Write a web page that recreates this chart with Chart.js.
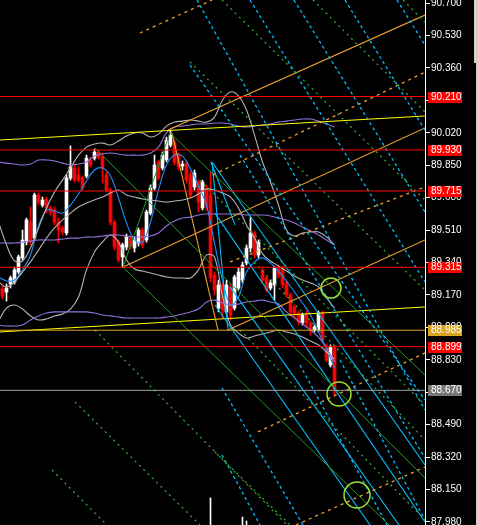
<!DOCTYPE html>
<html>
<head>
<meta charset="utf-8">
<title>Price chart</title>
<script src="https://cdn.jsdelivr.net/npm/chart.js@4.4.1/dist/chart.umd.min.js"></script>
<style>
  html, body { margin: 0; padding: 0; background: #000; overflow: hidden; }
  canvas { display: block; }
</style>
</head>
<body>
<canvas id="chart" width="478" height="525"></canvas>
<script>
// candles, bar 0 is the leftmost (half cut off)
const open = [
  89.206, 89.201, 89.185, 89.227, 89.238, 89.290, 89.364, 89.447, 89.552, 89.468,
  89.694, 89.641, 89.673, 89.626, 89.615, 89.552, 89.521, 89.495, 89.783, 89.835,
  89.799, 89.783, 89.793, 89.877, 89.887, 89.919, 89.893, 89.799, 89.720, 89.552,
  89.447, 89.369, 89.421, 89.468, 89.416, 89.442, 89.510, 89.458, 89.599, 89.730,
  89.867, 89.835, 89.877, 89.956, 89.971, 89.903, 89.846, 89.861, 89.799, 89.736,
  89.762, 89.626, 89.730, 89.694, 89.274, 89.101, 89.222, 89.081, 89.212, 89.101,
  89.206, 89.248, 89.337, 89.416, 89.495, 89.379, 89.301, 89.259, 89.206, 89.222,
  89.316, 89.311, 89.233, 89.170, 89.107, 89.075, 89.023, 89.075, 89.023, 88.986,
  88.986, 89.075, 88.892, 88.803, 88.897
];
const high = [
  89.222, 89.222, 89.227, 89.269, 89.316, 89.379, 89.510, 89.573, 89.631, 89.704,
  89.704, 89.683, 89.683, 89.636, 89.631, 89.573, 89.531, 89.799, 89.951, 89.856,
  89.841, 89.793, 89.903, 89.893, 89.935, 89.930, 89.914, 89.814, 89.730, 89.563,
  89.458, 89.442, 89.489, 89.479, 89.474, 89.521, 89.521, 89.615, 89.746, 89.903,
  89.877, 89.919, 89.997, 90.034, 89.982, 89.914, 89.872, 89.872, 89.814, 89.825,
  89.772, 89.772, 89.746, 89.814, 89.290, 89.248, 89.233, 89.248, 89.227, 89.274,
  89.311, 89.343, 89.432, 89.578, 89.505, 89.458, 89.316, 89.269, 89.248, 89.321,
  89.327, 89.321, 89.243, 89.180, 89.117, 89.086, 89.075, 89.086, 89.033, 89.012,
  89.086, 89.086, 88.913, 88.908, 88.908
];
const low = [
  89.165, 89.149, 89.138, 89.206, 89.227, 89.280, 89.353, 89.432, 89.432, 89.458,
  89.641, 89.631, 89.599, 89.589, 89.537, 89.442, 89.484, 89.484, 89.772, 89.762,
  89.762, 89.720, 89.783, 89.841, 89.877, 89.882, 89.757, 89.710, 89.537, 89.406,
  89.343, 89.316, 89.406, 89.411, 89.395, 89.426, 89.416, 89.447, 89.589, 89.720,
  89.772, 89.825, 89.867, 89.945, 89.851, 89.825, 89.825, 89.757, 89.678, 89.720,
  89.605, 89.615, 89.615, 89.238, 89.170, 89.081, 89.049, 89.070, 89.039, 89.091,
  89.196, 89.233, 89.327, 89.395, 89.364, 89.364, 89.233, 89.185, 89.196, 89.143,
  89.259, 89.206, 89.159, 89.070, 89.049, 89.012, 89.012, 89.002, 88.960, 88.976,
  88.976, 88.923, 88.819, 88.792, 88.640
];
const close = [
  89.180, 89.165, 89.206, 89.259, 89.301, 89.369, 89.458, 89.563, 89.447, 89.694,
  89.657, 89.668, 89.626, 89.605, 89.552, 89.510, 89.500, 89.783, 89.841, 89.772,
  89.772, 89.730, 89.887, 89.851, 89.919, 89.893, 89.835, 89.720, 89.552, 89.421,
  89.353, 89.432, 89.474, 89.426, 89.458, 89.510, 89.432, 89.605, 89.730, 89.851,
  89.783, 89.903, 89.982, 90.008, 89.867, 89.841, 89.856, 89.772, 89.694, 89.809,
  89.657, 89.762, 89.631, 89.259, 89.196, 89.222, 89.091, 89.222, 89.065, 89.264,
  89.290, 89.327, 89.416, 89.495, 89.379, 89.447, 89.248, 89.196, 89.233, 89.311,
  89.274, 89.222, 89.170, 89.081, 89.065, 89.028, 89.065, 89.023, 88.986, 89.002,
  89.075, 88.934, 88.829, 88.897, 88.670
];

// indicator lines, read every second bar
const sampleBars = [0, 2, 4, 6, 8, 10, 12, 14, 16, 18, 20, 22, 24, 26, 28, 30, 32, 34, 36, 38, 40, 42,
  44, 46, 48, 50, 52, 54, 56, 58, 60, 62, 64, 66, 68, 70, 72, 74, 76, 78, 80, 82, 84];
const maFast = [
  89.264, 89.243, 89.248, 89.301, 89.379, 89.531, 89.615, 89.610, 89.599, 89.641,
  89.699, 89.767, 89.825, 89.835, 89.793, 89.678, 89.547, 89.458, 89.447, 89.552,
  89.720, 89.851, 89.903, 89.898, 89.830, 89.741, 89.641, 89.442, 89.248, 89.117,
  89.159, 89.290, 89.343, 89.364, 89.337, 89.295, 89.243, 89.185, 89.128, 89.065,
  88.976, 88.887, 88.787
];
const bandUp = [
  89.552, 89.432, 89.348, 89.348, 89.416, 89.521, 89.626, 89.709, 89.772, 89.835,
  89.903, 89.945, 89.961, 89.966, 89.956, 89.977, 90.003, 90.019, 90.019, 89.998,
  90.013, 90.055, 90.076, 90.081, 90.087, 90.081, 90.076, 90.102, 90.192, 90.234,
  90.213, 90.139, 90.008, 89.867, 89.762, 89.641, 89.510, 89.479, 89.495, 89.500,
  89.500, 89.474, 89.432
];
const bandMid = [
  89.238, 89.212, 89.238, 89.290, 89.343, 89.405, 89.468, 89.521, 89.563, 89.599,
  89.631, 89.652, 89.668, 89.683, 89.704, 89.720, 89.694, 89.683, 89.673, 89.668,
  89.662, 89.657, 89.662, 89.668, 89.678, 89.699, 89.725, 89.720, 89.704, 89.683,
  89.626, 89.537, 89.468, 89.385, 89.348, 89.322, 89.295, 89.269, 89.248, 89.233,
  89.212, 89.154, 89.101
];
const bandLow = [
  89.033, 89.101, 89.117, 89.096, 89.060, 89.039, 89.044, 89.060, 89.070, 89.096,
  89.159, 89.301, 89.395, 89.447, 89.484, 89.447, 89.353, 89.306, 89.295, 89.285,
  89.274, 89.264, 89.259, 89.259, 89.259, 89.301, 89.379, 89.369, 89.164, 89.012,
  88.970, 88.944, 88.955, 88.965, 88.976, 88.986, 88.976, 88.965, 88.949, 88.928,
  88.908, 88.871, 88.834
];
const envUp = [
  89.867, 89.861, 89.856, 89.851, 89.856, 89.877, 89.877, 89.872, 89.861, 89.851,
  89.856, 89.867, 89.898, 89.909, 89.914, 89.909, 89.903, 89.903, 89.903, 89.914,
  89.945, 90.019, 90.050, 90.055, 90.061, 90.066, 90.066, 90.071, 90.071, 90.066,
  90.055, 90.050, 90.055, 90.061, 90.066, 90.076, 90.081, 90.087, 90.092, 90.092,
  90.081, 90.066, 90.050
];
const envMid = [
  89.442, 89.442, 89.442, 89.447, 89.453, 89.458, 89.458, 89.458, 89.463, 89.468,
  89.468, 89.474, 89.474, 89.479, 89.484, 89.484, 89.479, 89.474, 89.474, 89.479,
  89.495, 89.531, 89.558, 89.573, 89.578, 89.589, 89.594, 89.594, 89.594, 89.594,
  89.594, 89.589, 89.589, 89.589, 89.584, 89.573, 89.563, 89.547, 89.526, 89.505,
  89.484, 89.458, 89.432
];
const envLow = [
  89.012, 89.007, 89.007, 89.012, 89.039, 89.060, 89.075, 89.081, 89.081, 89.081,
  89.081, 89.081, 89.075, 89.065, 89.060, 89.054, 89.049, 89.049, 89.049, 89.049,
  89.049, 89.054, 89.060, 89.070, 89.081, 89.096, 89.133, 89.143, 89.128, 89.117,
  89.122, 89.133, 89.138, 89.143, 89.133, 89.122, 89.081, 89.049, 89.018, 88.986,
  88.949, 88.892, 88.818
];

// horizontal levels with their price tag on the axis
const levelPrices = [90.210, 89.930, 89.715, 89.315, 88.985, 88.899, 88.670];

// right axis ticks
const tickValues = [90.700, 90.530, 90.360, 90.190, 90.020, 89.850, 89.680, 89.510, 89.340,
  89.170, 89.000, 88.830, 88.660, 88.490, 88.320, 88.150, 87.980];

// trend lines: [bar, price, bar, price]
const yellowLines = [
  [0.375, 89.982, 106.625, 90.108],
  [0.375, 88.976, 106.625, 89.107]
];
const orangeSolid = [
  [42.375, 90.034, 106.625, 90.637],
  [31.125, 89.316, 106.625, 90.045],
  [57.375, 88.986, 106.625, 89.458],
  [43.375, 90.019, 54.875, 88.986]
];
const orangeDashed = [
  [35.375, 90.543, 53.375, 90.716],
  [53.625, 89.799, 106.625, 90.338],
  [57.875, 89.343, 106.625, 89.736],
  [64.875, 88.452, 106.625, 88.866],
  [74.375, 87.964, 106.625, 88.268]
];
const greenSolid = [
  [31.125, 89.316, 42.875, 90.019],
  [31.125, 89.316, 97.625, 87.964],
  [42.875, 90.019, 106.625, 88.750],
  [24.125, 89.940, 106.625, 88.210]
];
const greenDotted = [
  [101.125, 90.716, 106.625, 90.600],
  [78.625, 90.716, 106.625, 90.129],
  [55.875, 90.716, 106.625, 89.668],
  [47.875, 90.391, 106.625, 89.196],
  [50.375, 89.772, 106.625, 88.593],
  [62.875, 89.364, 106.625, 88.410],
  [60.375, 88.986, 106.625, 87.990],
  [24.125, 88.986, 72.125, 87.964],
  [19.125, 88.609, 50.375, 87.964],
  [13.375, 88.252, 27.125, 87.964],
  [54.125, 88.347, 72.875, 87.964]
];
const cyanSolid = [
  [53.375, 89.867, 106.625, 88.279],
  [54.125, 89.599, 106.625, 87.980],
  [57.875, 89.212, 100.125, 87.964],
  [54.125, 89.117, 92.875, 87.964],
  [53.375, 89.867, 57.375, 88.986],
  [53.125, 89.867, 59.125, 89.537]
];
const cyanDotted = [
  [49.625, 90.716, 106.625, 88.567],
  [62.875, 90.716, 106.625, 89.238],
  [73.875, 90.716, 106.625, 89.605],
  [86.625, 90.716, 106.625, 90.034],
  [99.625, 90.716, 106.625, 90.480],
  [47.875, 90.375, 106.625, 88.619],
  [60.375, 89.903, 106.625, 88.315],
  [55.875, 88.682, 76.125, 87.964],
  [55.875, 88.331, 65.375, 87.964],
  [75.375, 88.803, 97.125, 87.964],
  [85.375, 88.829, 106.625, 87.990]
];

// green ellipses drawn on the chart
const circleBars = [83.125, 85.125, 89.625];
const circlePrices = [89.206, 88.651, 88.121];

// small white ticks at the bottom
const spikeBars = [53, 61, 62];
const spikeTops = [88.106, 88.006, 87.985];

const xMin = 0.375, xMax = 106.625;
const yMin = 87.964, yMax = 90.716;

const RED = '#ff0000';
const levelLineColors = [RED, RED, RED, RED, '#daa520', RED, '#a0a0a0'];
const levelTagColors = [RED, RED, RED, RED, '#daa520', RED, '#787878'];

const bars = open.map((_, i) => i);
const candleColor = bars.map(i => close[i] >= open[i] ? '#ffffff' : RED);

const datasets = [];

// wicks and bodies
datasets.push({
  type: 'bar',
  data: bars.map(i => ({ x: i, y: [low[i], high[i]] })),
  backgroundColor: candleColor,
  barThickness: 1,
  grouped: false,
  order: 20
});
datasets.push({
  type: 'bar',
  data: bars.map(i => ({ x: i, y: [open[i], close[i]] })),
  backgroundColor: candleColor,
  barThickness: 3,
  minBarLength: 1,
  grouped: false,
  order: 19
});
datasets.push({
  type: 'bar',
  data: spikeBars.map((b, k) => ({ x: b, y: [yMin, spikeTops[k]] })),
  backgroundColor: '#ffffff',
  barThickness: 1,
  grouped: false,
  order: 18
});

function curve(values, color) {
  datasets.push({
    type: 'line',
    data: sampleBars.map((b, k) => ({ x: b, y: values[k] })),
    borderColor: color,
    borderWidth: 1.1,
    pointRadius: 0,
    tension: 0.35,
    fill: false,
    order: 6
  });
}
curve(envUp, '#9370db');
curve(envMid, '#9370db');
curve(envLow, '#9370db');
curve(bandUp, '#b4b4b4');
curve(bandMid, '#b4b4b4');
curve(bandLow, '#b4b4b4');
curve(maFast, '#1e90ff');

function segs(list, color, dash, width) {
  list.forEach(s => datasets.push({
    type: 'line',
    data: [{ x: s[0], y: s[1] }, { x: s[2], y: s[3] }],
    borderColor: color,
    borderWidth: width,
    borderDash: dash,
    pointRadius: 0,
    fill: false,
    order: 3
  }));
}
segs(greenDotted, '#33a833', [2, 4], 1.3);
segs(cyanDotted, '#00bfff', [3, 3], 1.3);
segs(orangeDashed, '#f0a030', [3, 4], 1.3);
segs(greenSolid, '#249624', [], 1);
segs(cyanSolid, '#00bfff', [], 1.1);
segs(orangeSolid, '#f0a030', [], 1.1);
segs(yellowLines, '#ffff00', [], 1);

levelPrices.forEach((p, k) => datasets.push({
  type: 'line',
  data: [{ x: xMin, y: p }, { x: xMax, y: p }],
  borderColor: levelLineColors[k],
  borderWidth: 1,
  pointRadius: 0,
  fill: false,
  order: 2
}));

datasets.push({
  type: 'scatter',
  data: circleBars.map((b, k) => ({ x: b, y: circlePrices[k] })),
  pointRadius: [10, 12, 13],
  pointBorderColor: '#9fe02f',
  pointBackgroundColor: 'rgba(0,0,0,0)',
  pointBorderWidth: 1.5,
  order: 0
});

// price tags on the axis + window edge
const tagPlugin = {
  id: 'tags',
  afterDraw(chart) {
    const { ctx, chartArea } = chart;
    const y = chart.scales.y;
    ctx.save();
    ctx.font = '10px "Liberation Sans", Arial, sans-serif';
    ctx.textBaseline = 'middle';
    ctx.textAlign = 'left';
    levelPrices.forEach((p, k) => {
      const py = Math.round(y.getPixelForValue(p));
      ctx.fillStyle = levelTagColors[k];
      ctx.fillRect(chartArea.right + 3, py - 5, 34, 11);
      ctx.fillStyle = '#ffffff';
      ctx.fillText(p.toFixed(3), chartArea.right + 6, py + 0.5);
    });
    ctx.fillStyle = '#d4d0c8';
    ctx.fillRect(474, 0, 4, 63);
    ctx.fillRect(476, 63, 2, 462);
    ctx.restore();
  }
};

new Chart(document.getElementById('chart'), {
  type: 'bar',
  data: { datasets },
  plugins: [tagPlugin],
  options: {
    responsive: false,
    animation: false,
    devicePixelRatio: 1,
    events: [],
    layout: { padding: 0, autoPadding: false },
    plugins: { legend: { display: false }, tooltip: { enabled: false } },
    scales: {
      x: {
        type: 'linear',
        min: xMin,
        max: xMax,
        offset: false,
        display: false
      },
      y: {
        type: 'linear',
        position: 'right',
        min: yMin,
        max: yMax,
        beginAtZero: false,
        afterBuildTicks: axis => {
          axis.ticks = tickValues.map(v => ({ value: v }));
        },
        afterFit: axis => {
          axis.width = 53;
          axis.paddingTop = 0;
          axis.paddingBottom = 0;
        },
        ticks: {
          autoSkip: false,
          color: '#ffffff',
          padding: 1,
          font: { family: 'Liberation Sans', size: 10 },
          callback: v => v.toFixed(3)
        },
        grid: {
          drawOnChartArea: false,
          drawTicks: true,
          tickLength: 5,
          color: '#ffffff'
        },
        border: { display: true, color: '#ffffff', width: 1 }
      }
    }
  }
});
</script>
</body>
</html>
